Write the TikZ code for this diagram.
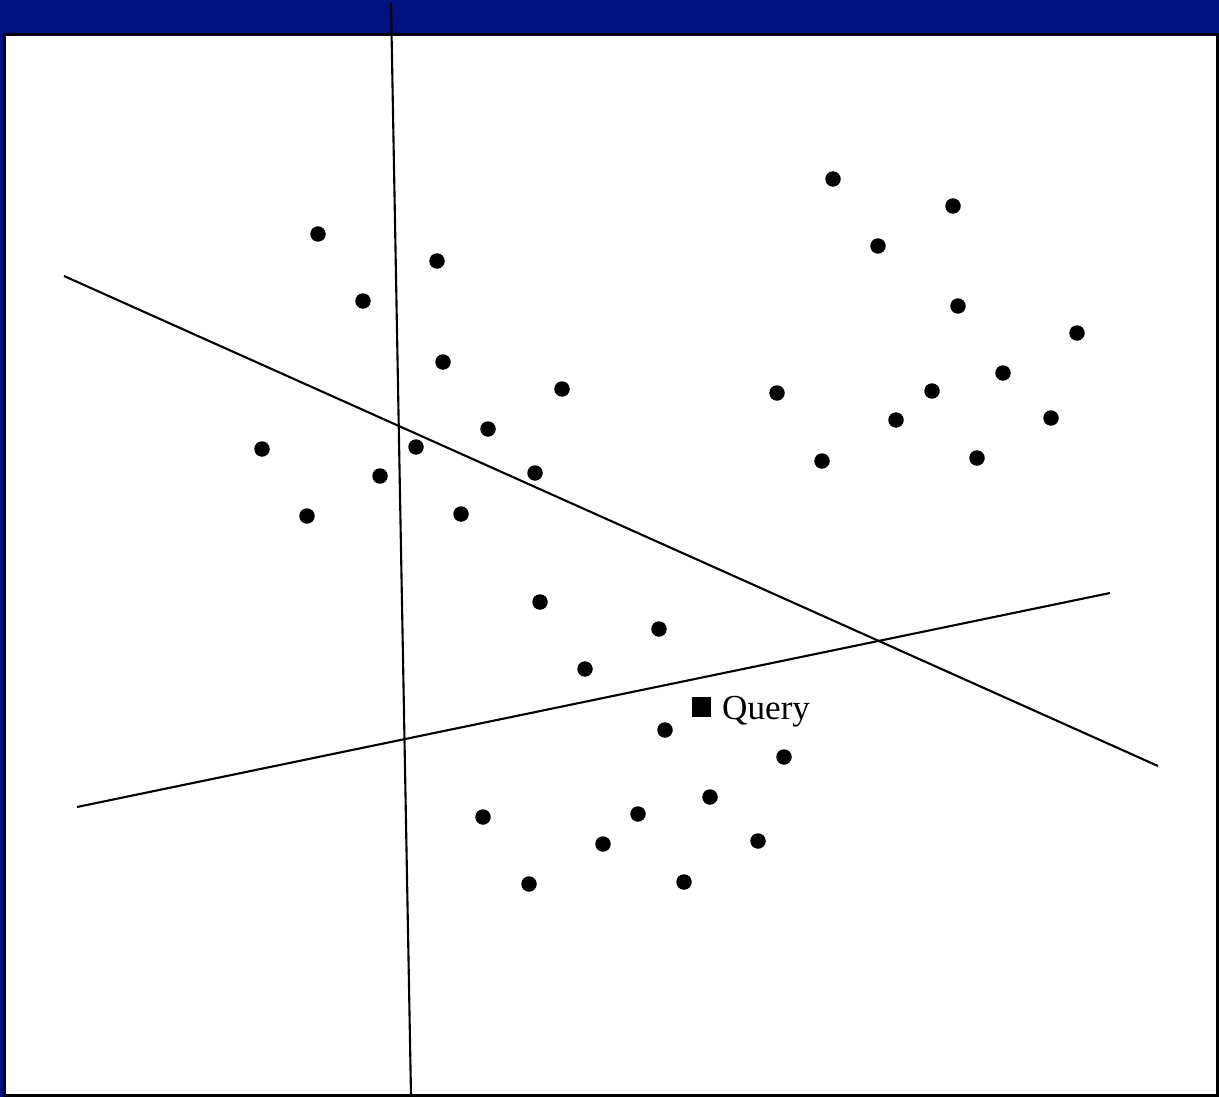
\documentclass[tikz,border=0pt]{standalone}
\usepackage{fontspec}
\setmainfont{Liberation Serif}
\usetikzlibrary{positioning}

\definecolor{bandblue}{RGB}{0,18,128}

\tikzset{
  dot/.style={circle, fill=black, inner sep=0pt, minimum size=3.1mm},
  qbox/.style={rectangle, fill=black, inner sep=0pt, minimum width=3.8mm, minimum height=4mm},
  cutline/.style={line width=1.2pt, black}
}

\begin{document}
\begin{tikzpicture}[x=0.2mm, y=-0.2mm]
        \useasboundingbox (0,0) rectangle (1219,1097);

        % Frame
        \fill[bandblue] (0,0) rectangle (1219,1097);
        \fill[black] (3,33) rectangle (1219,1097);
        \fill[white] (6,36) rectangle (1216,1094);

        % Points
        \foreach \x/\y [count=\n] in {
            318/234, 437/261, 363/301, 443/362, 562/389, 488/429,
            416/447, 262/449, 380/476, 535/473, 307/516, 461/514,
            833/179, 953/206, 878/246, 958/306, 1077/333, 777/393,
            1003/373, 932/391, 896/420, 1051/418, 822/461, 977/458,
            540/602, 659/629, 585/669, 665/730, 784/757, 710/797,
            483/817, 638/814, 603/844, 758/841, 529/884, 684/882}
            \node[dot] (p\n) at (\x,\y) {};

        % Query
        \node[qbox] (q) at (701,707) {};
        \node[right=2.2mm of q, yshift=-0.9mm, inner sep=0pt, font=\fontsize{20}{24}\selectfont] (qlabel) {Query};

        % Cutting lines
        \coordinate (a1) at (391,3);
        \coordinate (a2) at (411,1095);
        \coordinate (b1) at (64,276);
        \coordinate (b2) at (1158,766);
        \coordinate (c1) at (77,807);
        \coordinate (c2) at (1110,593);

        \draw[cutline] (a1) -- (a2);
        \draw[cutline] (b1) -- (b2);
        \draw[cutline] (c1) -- (c2);

\end{tikzpicture}
\end{document}
